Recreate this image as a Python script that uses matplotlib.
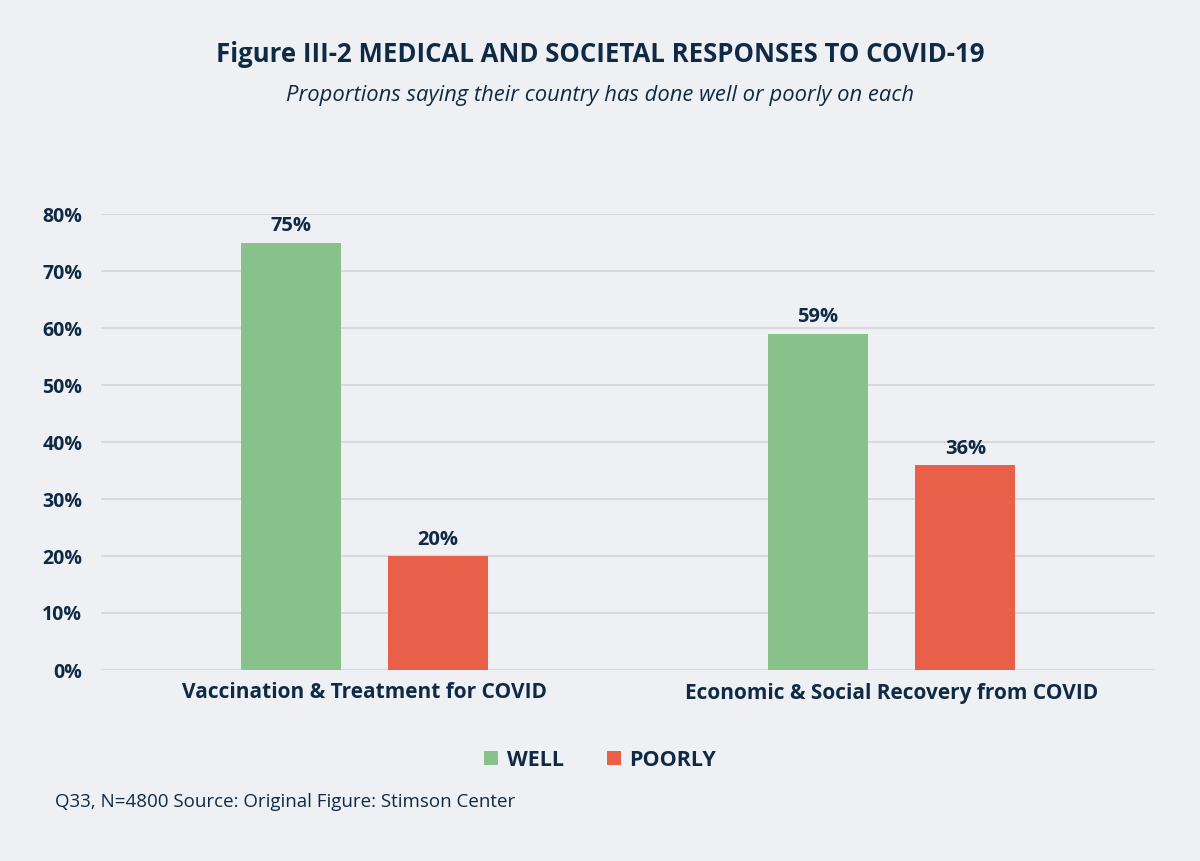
import matplotlib.pyplot as plt
from matplotlib.patches import Patch

# Data
categories = ["Vaccination & Treatment for COVID", "Economic & Social Recovery from COVID"]
well = [75, 59]
poorly = [20, 36]
series_names = ["WELL", "POORLY"]
yticks = [0, 10, 20, 30, 40, 50, 60, 70, 80]
ytick_labels = [f"{v}%" for v in yticks]

BG = "#eff0f4"
NAVY = "#0f2a44"
GREEN = "#88c28a"
RED = "#e9604a"
GRID = "#d8d9de"
FONT = ["Open Sans", "DejaVu Sans"]

plt.rcParams["font.family"] = FONT

fig = plt.figure(figsize=(12, 8.61), dpi=100, facecolor=BG)
ax = fig.add_axes([101 / 1200, 1 - 670 / 861, 1054 / 1200, 456 / 861])
ax.set_facecolor(BG)

x = list(range(len(categories)))
off = 0.14
w = 0.19
b1 = ax.bar([i - off for i in x], well, width=w, color=GREEN, zorder=3)
b2 = ax.bar([i + off for i in x], poorly, width=w, color=RED, zorder=3)

for bars, vals in ((b1, well), (b2, poorly)):
    for rect, v in zip(bars, vals):
        ax.text(rect.get_x() + rect.get_width() / 2, v + 1.1, f"{v}%",
                ha="center", va="bottom", fontsize=14.5, fontweight="bold", color=NAVY)

ax.set_xlim(-0.5, 1.5)
ax.set_ylim(0, 80)
ax.set_yticks(yticks)
ax.set_yticklabels(ytick_labels)
ax.set_xticks(x)
ax.set_xticklabels(categories)
ax.tick_params(axis="y", length=0, pad=13.5, labelsize=14, labelcolor=NAVY)
ax.tick_params(axis="x", length=0, pad=9, labelsize=15, labelcolor=NAVY)
for lab in ax.get_yticklabels() + ax.get_xticklabels():
    lab.set_fontweight("bold")
ax.yaxis.grid(True, color=GRID, linewidth=1.5, zorder=0)
ax.set_axisbelow(True)
for s in ax.spines.values():
    s.set_visible(False)

fig.text(0.5, 1 - 55 / 861, "Figure III-2 MEDICAL AND SOCIETAL RESPONSES TO COVID-19",
         ha="center", va="center", fontsize=18.5, fontweight="bold", color=NAVY)
fig.text(0.5, 1 - 96 / 861, "Proportions saying their country has done well or poorly on each",
         ha="center", va="center", fontsize=15.8, fontstyle="italic", color=NAVY)

handles = [Patch(facecolor=GREEN, edgecolor="none"), Patch(facecolor=RED, edgecolor="none")]
leg = fig.legend(handles, series_names, loc="center", bbox_to_anchor=(0.5, 1 - 760 / 861),
                 ncol=2, frameon=False, handlelength=0.65, handleheight=0.65,
                 handletextpad=0.4, columnspacing=2.0,
                 prop={"family": FONT, "weight": "bold", "size": 15.5})
for t in leg.get_texts():
    t.set_color(NAVY)

fig.text(55 / 1200, 1 - 802 / 861, "Q33, N=4800 Source: Original Figure: Stimson Center",
         ha="left", va="center", fontsize=13.5, color=NAVY)

fig.savefig("out.png", dpi=100, facecolor=BG)
